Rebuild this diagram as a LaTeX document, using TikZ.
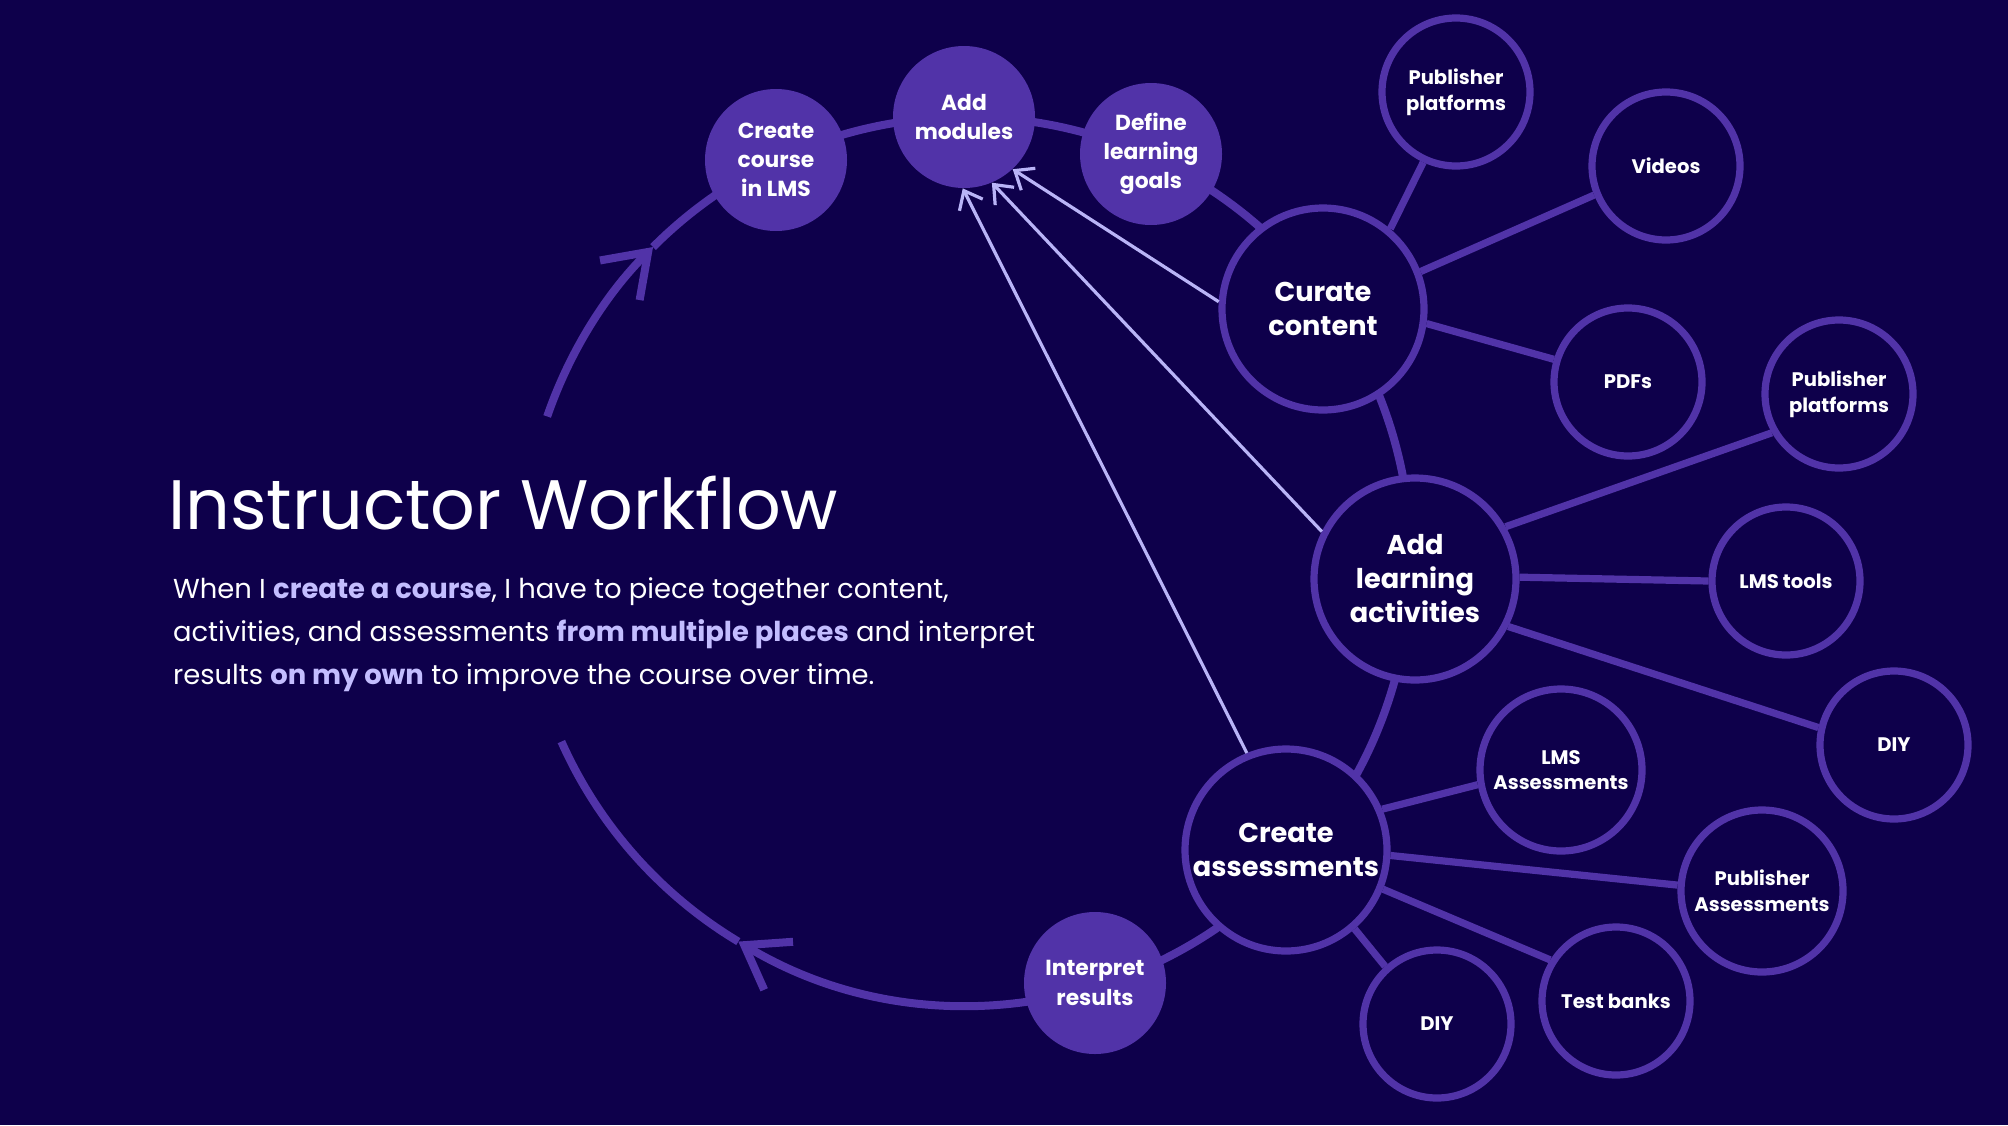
\documentclass[tikz,border=0pt]{standalone}
\usepackage{fontspec}
\setmainfont{Poppins}
\usetikzlibrary{arrows.meta}

\definecolor{bgnavy}{HTML}{0E004B}
\definecolor{ringpurple}{HTML}{5133A8}
\definecolor{flowlilac}{HTML}{B9B4F7}
\definecolor{hilite}{HTML}{C3BDFF}
\newcommand{\keyword}[1]{{\bfseries\color{hilite}#1}}

\begin{document}
\begin{tikzpicture}[x=0.5pt, y=-0.5pt,
    stage/.style={circle, fill=ringpurple, text=white, minimum size=71pt, inner sep=0pt, align=center, font=\fontsize{10.9pt}{14.6pt}\selectfont\bfseries},
    hub/.style={circle, draw=ringpurple, line width=3.6pt, fill=bgnavy, text=white, minimum size=101pt, inner sep=0pt, align=center, font=\fontsize{13.6pt}{17pt}\selectfont\bfseries},
    srcnode/.style={circle, draw=ringpurple, line width=3.6pt, fill=bgnavy, text=white, minimum size=74pt, inner sep=0pt, align=center, font=\fontsize{9.8pt}{12.8pt}\selectfont\bfseries},
    spoke/.style={draw=ringpurple, line width=3.6pt},
    cyclering/.style={draw=ringpurple, line width=4pt},
    backflow/.style={draw=flowlilac, line width=1.6pt, -{Straight Barb[length=8pt,width=13pt]}}]
        \useasboundingbox (0,0) rectangle (2008,1125);
        \fill[bgnavy] (0,0) rectangle (2008,1125);
        \coordinate (hubc) at (967,561);
        \draw[cyclering, -{Straight Barb[length=20pt,width=28pt]}] ([shift={(199:444)}]hubc) arc[start angle=199, end angle=225, radius=444];
        \draw[cyclering, -{Straight Barb[length=20pt,width=28pt]}] ([shift={(225:444)}]hubc) arc[start angle=225, end angle=481, radius=444];
        \draw[cyclering] ([shift={(481:444)}]hubc) arc[start angle=481, end angle=516, radius=444];
        \node[anchor=base west, text=white, font=\fontsize{35pt}{40pt}\selectfont] (title) at (161,529) {Instructor Workflow};
        \node[anchor=base west, align=left, text=white, font=\fontsize{13.7pt}{21.3pt}\selectfont] (blurb) at (166,684) {When I \keyword{create a course}, I have to piece together content,\\activities, and assessments \keyword{from multiple places} and interpret\\results \keyword{on my own} to improve the course over time.};
        \node[stage] (create) at (776,160) {Create\\course\\in LMS};
        \node[stage] (addmod) at (964,117) {Add\\modules};
        \node[stage] (define) at (1151,154) {Define\\learning\\goals};
        \node[stage] (interpret) at (1095,983) {Interpret\\results};
        \node[hub] (curate) at (1323,309) {Curate\\content};
        \node[hub] (activities) at (1415,579) {Add\\learning\\activities};
        \node[hub] (assess) at (1286,850) {Create\\assessments};
        \node[srcnode] (pubtop) at (1456,92) {Publisher\\platforms};
        \node[srcnode] (videos) at (1666,166) {Videos};
        \node[srcnode] (pdfs) at (1628,382) {PDFs};
        \node[srcnode] (pubright) at (1839,394) {Publisher\\platforms};
        \node[srcnode] (lmstools) at (1786,581) {LMS tools};
        \node[srcnode] (diyright) at (1894,745) {DIY};
        \node[srcnode, minimum size=81pt] (lmsassess) at (1561,770) {LMS\\Assessments};
        \node[srcnode, minimum size=81pt] (pubassess) at (1762,891) {Publisher\\Assessments};
        \node[srcnode] (testbanks) at (1616,1001) {Test banks};
        \node[srcnode] (diybottom) at (1437,1024) {DIY};
        \draw[spoke] (curate.50) -- (pubtop.245);
        \draw[spoke] (curate.21) -- (videos.202);
        \draw[spoke] (curate.-8) -- (pdfs.163);
        \draw[spoke] (activities.30) -- (pubright.210);
        \draw[spoke] (activities.1) -- (lmstools.180);
        \draw[spoke] (activities.-27) -- (diyright.167);
        \draw[spoke] (assess.23) -- (lmsassess.190);
        \draw[spoke] (assess.-3) -- (pubassess.176);
        \draw[spoke] (assess.-22) -- (testbanks.148);
        \draw[spoke] (assess.-49) -- (diybottom.132);
        \draw[backflow] (curate.176) -- (addmod.-47);
        \draw[backflow] (activities.153) -- (addmod.-67);
        \draw[backflow] (assess.112) -- (addmod.-91);
\end{tikzpicture}
\end{document}
